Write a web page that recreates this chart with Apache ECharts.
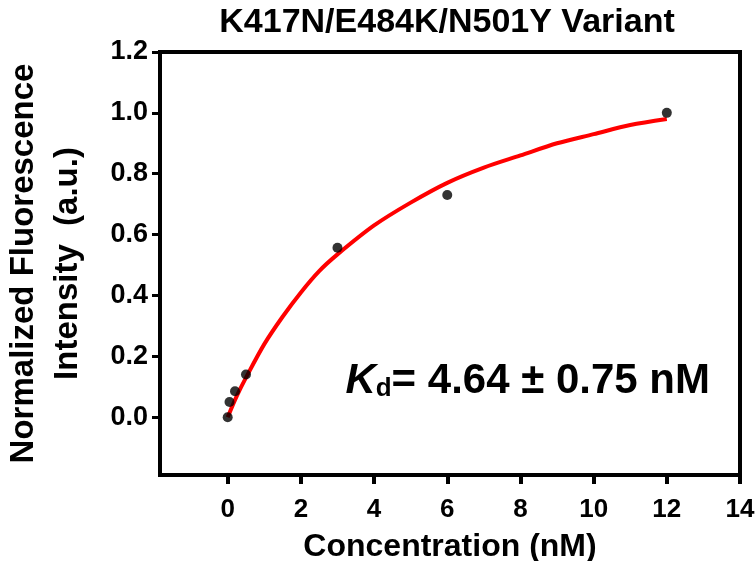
<!DOCTYPE html>
<html>
<head>
<meta charset="utf-8">
<script src="https://cdn.jsdelivr.net/npm/echarts@6/dist/echarts.min.js"></script>
<style>
  html, body { margin: 0; padding: 0; background: #fff; }
  #chart { width: 756px; height: 561px; }
</style>
</head>
<body>
<div id="chart"></div>
<script>
// measured points
var concData = [0, 0.05, 0.2, 0.5, 3, 6, 12];
var intensityData = [0, 0.05, 0.085, 0.14, 0.557, 0.73, 1.0];

// fitted curve
var fitX = [0, 0.25, 0.5, 1, 1.5, 2, 2.5, 3, 4, 5, 6, 7, 8, 9, 10, 11, 12];
var fitY = [0, 0.07, 0.13, 0.24, 0.33, 0.41, 0.48, 0.535, 0.63, 0.705, 0.77, 0.82, 0.86, 0.9, 0.93, 0.96, 0.98];

var xTicks = [0, 2, 4, 6, 8, 10, 12, 14];
var yTicks = [0, 0.2, 0.4, 0.6, 0.8, 1.0, 1.2];

var font = 'Liberation Sans, Arial, sans-serif';

var myChart = echarts.init(document.getElementById('chart'));

function pairs(xs, ys) {
	var out = [];
	for (var i = 0; i < xs.length; i++) {
		out.push([xs[i], ys[i]]);
	}
	return out;
}

var option = {
	backgroundColor: '#fff',
	animation: false,
	title: {
		text: 'K417N/E484K/N501Y Variant',
		left: 442,
		top: 1,
		textAlign: 'center',
		textStyle: {fontFamily: font, fontWeight: 'bold', fontSize: 34, color: '#000'}
	},
	grid: {
		left: 160, right: 16, top: 52, bottom: 86,
		outerBoundsMode: 'none',
		show: true, borderWidth: 4, borderColor: '#000', backgroundColor: 'transparent'
	},
	xAxis: {
		type: 'value',
		min: -1.85,
		max: 14,
		name: 'Concentration (nM)',
		nameLocation: 'middle',
		nameGap: 56,
		nameTextStyle: {fontFamily: font, fontWeight: 'bold', fontSize: 32, color: '#000'},
		axisLine: {show: false, onZero: false},
		splitLine: {show: false},
		axisTick: {show: true, inside: false, length: 9, customValues: xTicks,
			lineStyle: {color: '#000', width: 4}},
		axisLabel: {customValues: xTicks, margin: 22,
			fontFamily: font, fontWeight: 'bold', fontSize: 26, color: '#000'}
	},
	yAxis: {
		type: 'value',
		min: -0.19,
		max: 1.2,
		name: 'Normalized Fluorescence\nIntensity  (a.u.)',
		nameLocation: 'middle',
		nameRotate: 90,
		nameGap: 70,
		nameTextStyle: {fontFamily: font, fontWeight: 'bold', fontSize: 33, color: '#000', lineHeight: 44},
		axisLine: {show: false, onZero: false},
		splitLine: {show: false},
		axisTick: {show: true, inside: false, length: 8, customValues: yTicks,
			lineStyle: {color: '#000', width: 3}},
		axisLabel: {customValues: yTicks, margin: 12,
			formatter: function(v) { return v.toFixed(1); },
			fontFamily: font, fontWeight: 'bold', fontSize: 27, color: '#000'}
	},
	graphic: [{
		type: 'text',
		right: 46,
		top: 360,
		style: {
			text: '{k|K}{d|d}{n|= 4.64 ± 0.75 nM}',
			rich: {
				k: {fontFamily: font, fontWeight: 'bold', fontStyle: 'italic', fontSize: 42, fill: '#000'},
				d: {fontFamily: font, fontWeight: 'bold', fontSize: 26, fill: '#000', verticalAlign: 'bottom', padding: [16, 0, 0, 0]},
				n: {fontFamily: font, fontWeight: 'bold', fontSize: 42, fill: '#000'}
			}
		}
	}],
	series: [{
		type: 'line',
		data: pairs(fitX, fitY),
		smooth: 0.3,
		showSymbol: false,
		lineStyle: {color: '#ff0000', width: 4},
		z: 2
	}, {
		type: 'scatter',
		data: pairs(concData, intensityData),
		symbol: 'circle',
		symbolSize: 10,
		itemStyle: {color: '#000'},
		z: 3
	}]
};

myChart.setOption(option);

window.onresize = function() {
	myChart.resize();
};
</script>
</body>
</html>
